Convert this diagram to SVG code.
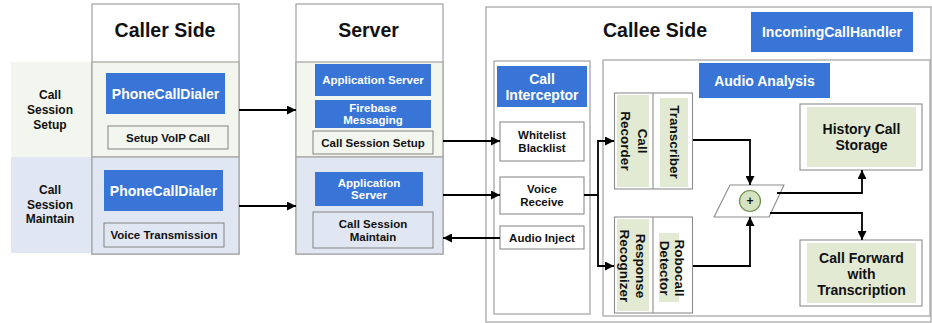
<svg xmlns="http://www.w3.org/2000/svg" width="932" height="323" viewBox="0 0 932 323">
<defs>
<style>
text{font-family:"Liberation Sans",Arial,sans-serif;font-weight:700;fill:#111;text-anchor:middle;dominant-baseline:central}
.t{font-size:19.5px}
.w{fill:#fff}
.b14{font-size:14px}
.s{font-size:11.5px}
.l{font-size:12px}
.r{font-size:13.5px}
.blue{fill:#3875d6}
.col{fill:#fff;stroke:#a8a8a8;stroke-width:1.3}
.box{stroke:#8c8c8c;stroke-width:1.1}
.g{fill:#e2ead4}
.c{fill:none;stroke:#000;stroke-width:1.8}
</style>
<marker id="ah" viewBox="0 0 10 10" refX="10" refY="5" markerWidth="9" markerHeight="9" markerUnits="userSpaceOnUse" orient="auto"><path d="M0,0 L10,5 L0,10 z" fill="#000"/></marker>
</defs>
<rect width="932" height="323" fill="#fff"/>

<g id="row-labels">
<rect x="11" y="62" width="81" height="95" fill="#f3f6ee"/>
<rect x="11" y="157" width="81" height="96" fill="#e1e7f2"/>
<text class="l" x="50" y="95">Call</text>
<text class="l" x="50" y="110">Session</text>
<text class="l" x="50" y="124.5">Setup</text>
<text class="l" x="50" y="190">Call</text>
<text class="l" x="50" y="204.5">Session</text>
<text class="l" x="50" y="219">Maintain</text>
</g>

<g id="caller-side">
<rect class="col" x="92" y="4" width="147" height="250"/>
<rect x="92" y="62" width="147" height="95" fill="#f3f6ee" stroke="#a8a8a8" stroke-width="1.3"/>
<rect x="92" y="157" width="147" height="97" fill="#e1e7f2" stroke="#a8a8a8" stroke-width="1.3"/>
<text class="t" x="165" y="30">Caller Side</text>
</g>
<g id="caller-dialer-setup">
<rect class="blue" x="106" y="73" width="119" height="41"/>
<text class="b14 w" x="165.5" y="94">PhoneCallDialer</text>
</g>
<g id="setup-voip-call">
<rect class="box" x="108" y="126" width="120" height="23" fill="#f3f6ee"/>
<text class="s" x="168" y="137.5">Setup VoIP Call</text>
</g>
<g id="caller-dialer-maintain">
<rect class="blue" x="104" y="170" width="119" height="41"/>
<text class="b14 w" x="163.5" y="190.5">PhoneCallDialer</text>
</g>
<g id="voice-transmission">
<rect class="box" x="104" y="223" width="120" height="24" fill="#e1e7f2"/>
<text class="s" x="164" y="235">Voice Transmission</text>
</g>

<g id="server">
<rect class="col" x="296" y="4" width="147" height="250"/>
<rect x="296" y="62" width="147" height="95" fill="#f3f6ee" stroke="#a8a8a8" stroke-width="1.3"/>
<rect x="296" y="157" width="147" height="97" fill="#e1e7f2" stroke="#a8a8a8" stroke-width="1.3"/>
<text class="t" x="368.5" y="29.5">Server</text>
</g>
<g id="app-server-setup">
<rect class="blue" x="315" y="64" width="116" height="32"/>
<text class="s w" x="373" y="80">Application Server</text>
</g>
<g id="firebase-messaging">
<rect class="blue" x="315" y="100" width="116" height="28"/>
<text class="s w" x="373" y="107.5">Firebase</text>
<text class="s w" x="373" y="120">Messaging</text>
</g>
<g id="call-session-setup">
<rect class="box" x="313" y="131" width="120" height="23" fill="#f3f6ee"/>
<text class="s" x="373" y="142.5">Call Session Setup</text>
</g>
<g id="app-server-maintain">
<rect class="blue" x="315" y="172" width="108" height="34"/>
<text class="s w" x="369" y="182.5">Application</text>
<text class="s w" x="369" y="195">Server</text>
</g>
<g id="call-session-maintain">
<rect class="box" x="313" y="212" width="120" height="36" fill="#e1e7f2"/>
<text class="s" x="373" y="223.5">Call Session</text>
<text class="s" x="373" y="236.5">Maintain</text>
</g>

<g id="callee-side">
<rect class="col" x="486" y="7" width="445" height="315"/>
<text class="t" x="655" y="30">Callee Side</text>
</g>
<g id="incoming-call-handler">
<rect class="blue" x="751" y="12" width="162" height="40"/>
<text class="b14 w" x="832" y="32">IncomingCallHandler</text>
</g>

<g id="call-interceptor">
<rect class="col" x="494" y="61" width="96" height="253"/>
<rect class="blue" x="497" y="66" width="90" height="41"/>
<text class="b14 w" x="542" y="78.5">Call</text>
<text class="b14 w" x="542" y="95">Interceptor</text>
</g>
<g id="whitelist-blacklist">
<rect class="box" x="500" y="122" width="84" height="39" fill="#fff"/>
<text class="s" x="542" y="135">Whitelist</text>
<text class="s" x="542" y="147.5">Blacklist</text>
</g>
<g id="voice-receive">
<rect class="box" x="500" y="177" width="84" height="37" fill="#fff"/>
<text class="s" x="542" y="189">Voice</text>
<text class="s" x="542" y="201.5">Receive</text>
</g>
<g id="audio-inject">
<rect class="box" x="500" y="226" width="84" height="23" fill="#fff"/>
<text class="s" x="542" y="238">Audio Inject</text>
</g>

<g id="audio-analysis">
<rect class="col" x="603" y="60" width="327" height="256"/>
<rect class="blue" x="699" y="63" width="131" height="35"/>
<text class="b14 w" x="764.5" y="80.5">Audio Analysis</text>
</g>

<g id="recorder-transcriber">
<rect class="box" x="614.5" y="93" width="78" height="96" fill="#fff"/>
<line x1="653" y1="93" x2="653" y2="189" stroke="#8c8c8c" stroke-width="1.1"/>
<rect class="g" x="617" y="95" width="32" height="92"/>
<rect class="g" x="660" y="98" width="28" height="89"/>
<text class="r" transform="translate(634,141) rotate(90)"><tspan x="0" y="-8.5">Call</tspan><tspan x="0" y="8.5">Recorder</tspan></text>
<text class="r" transform="translate(674,142) rotate(90)">Transcriber</text>
</g>

<g id="recognizer-detector">
<rect class="box" x="614.5" y="217" width="78" height="96" fill="#fff"/>
<line x1="653" y1="217" x2="653" y2="313" stroke="#8c8c8c" stroke-width="1.1"/>
<rect class="g" x="617" y="219" width="32" height="92"/>
<rect class="g" x="659" y="233" width="20" height="69"/>
<text class="r" transform="translate(632.5,266) rotate(90)"><tspan x="0" y="-8">Response</tspan><tspan x="0" y="8">Recognizer</tspan></text>
<text class="r" transform="translate(672,268) rotate(90)"><tspan x="0" y="-7.5">Robocall</tspan><tspan x="0" y="7.5">Detector</tspan></text>
</g>

<g id="merge">
<polygon points="730,185 784,185 769,217 714,217" fill="#fff" stroke="#8c8c8c" stroke-width="1.1"/>
<circle cx="750" cy="201" r="10.5" fill="#d5e3c0" stroke="#6e9050" stroke-width="1.2"/>
<text x="750" y="201" style="font-size:12px">+</text>
</g>

<g id="history-call-storage">
<rect class="box" x="800" y="104" width="122" height="66" fill="#fff"/>
<rect class="g" x="807" y="107" width="109" height="60"/>
<text class="b14" x="861.5" y="128.5">History Call</text>
<text class="b14" x="861.5" y="145">Storage</text>
</g>

<g id="call-forward">
<rect class="box" x="800" y="240" width="122" height="66" fill="#fff"/>
<rect class="g" x="807" y="243" width="109" height="60"/>
<text class="b14" x="861.5" y="258">Call Forward</text>
<text class="b14" x="861.5" y="274">with</text>
<text class="b14" x="861.5" y="290">Transcription</text>
</g>

<g id="connectors">
<path class="c" d="M239,110 H296" marker-end="url(#ah)"/>
<path class="c" d="M239,206 H296" marker-end="url(#ah)"/>
<path class="c" d="M443,141 H500" marker-end="url(#ah)"/>
<path class="c" d="M443,195 H500" marker-end="url(#ah)"/>
<path class="c" d="M500,238 H443" marker-end="url(#ah)"/>
<path class="c" d="M584,195 H598 V141 H614" marker-end="url(#ah)"/>
<path class="c" d="M598,195 V266 H614" marker-end="url(#ah)"/>
<path class="c" d="M693,140 H750 V185" marker-end="url(#ah)"/>
<path class="c" d="M693,266 H750 V217" marker-end="url(#ah)"/>
<path class="c" d="M777,193 H862 V170" marker-end="url(#ah)"/>
<path class="c" d="M770,213 H862 V240" marker-end="url(#ah)"/>
</g>
</svg>
